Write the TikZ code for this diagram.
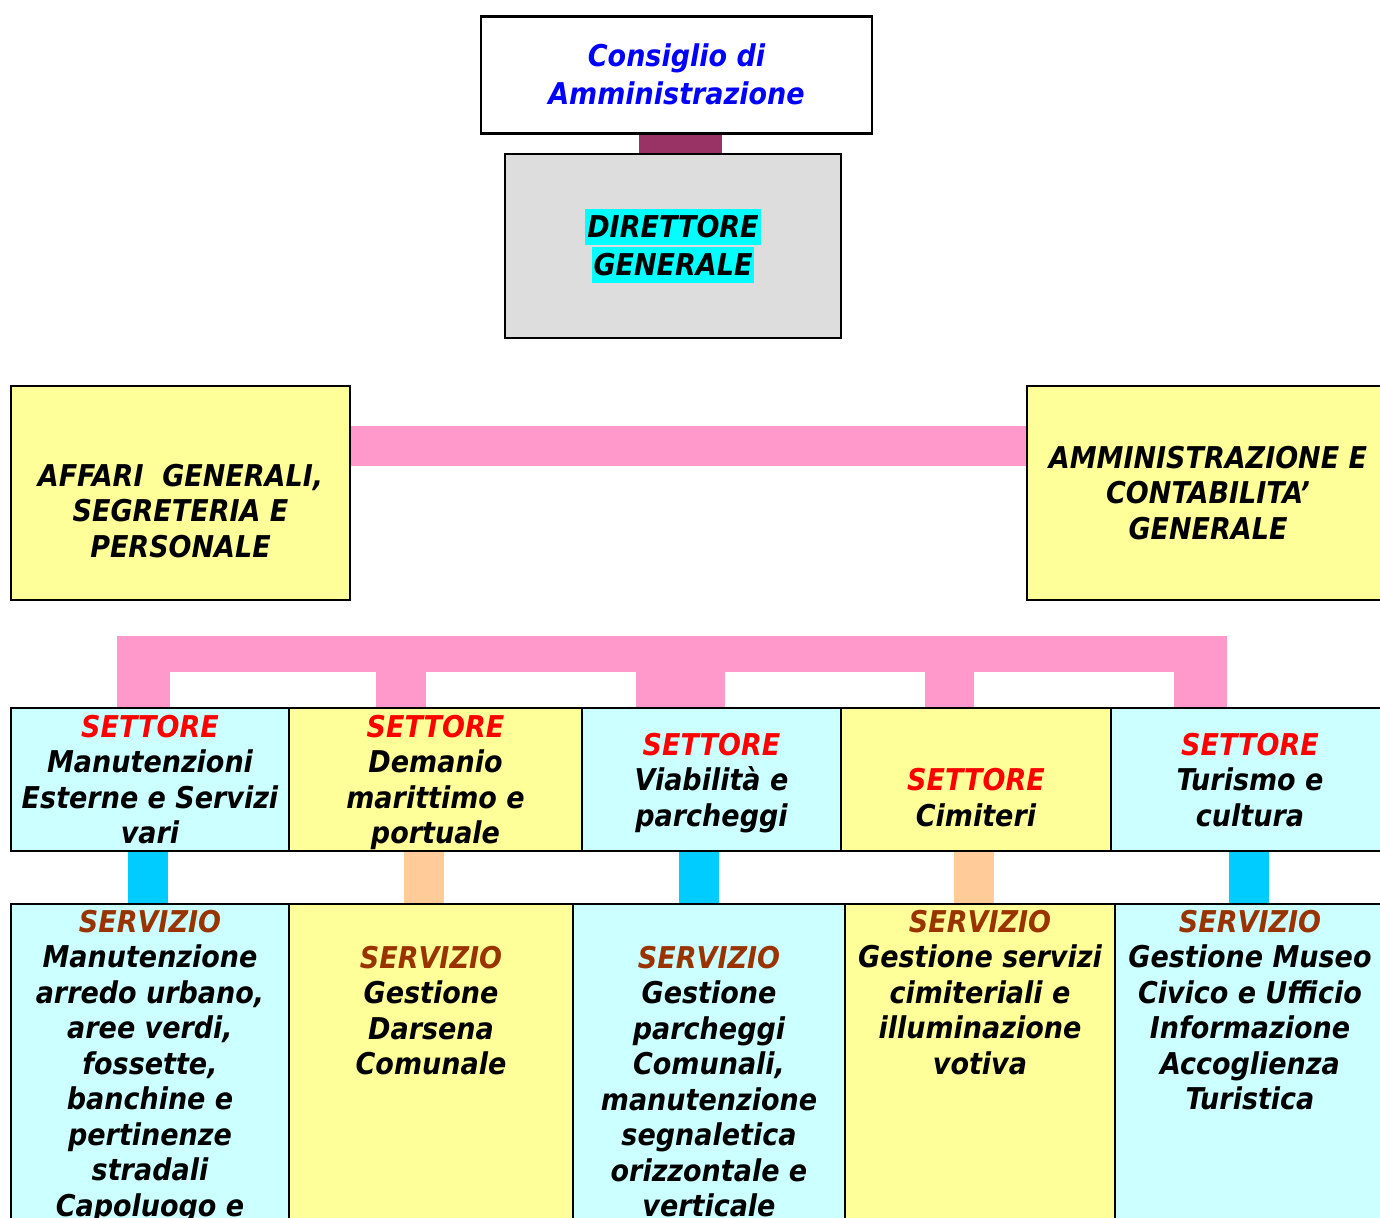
\documentclass[tikz,border=0pt]{standalone}
\usepackage{fontspec}
\setmainfont{DejaVu Sans Condensed}
\usepackage{tikz}
\usetikzlibrary{positioning,calc}

\definecolor{cdablue}{HTML}{0000FF}
\definecolor{dgbar}{HTML}{993366}
\definecolor{dggray}{HTML}{DDDDDD}
\definecolor{hlcyan}{HTML}{00FFFF}
\definecolor{boxyellow}{HTML}{FFFF99}
\definecolor{boxcyan}{HTML}{CCFFFF}
\definecolor{barpink}{HTML}{FF99CC}
\definecolor{barcyan}{HTML}{00CCFF}
\definecolor{barpeach}{HTML}{FFCC99}
\definecolor{settred}{HTML}{FF0000}
\definecolor{servbrown}{HTML}{993300}

\newcommand\orgfont{\fontsize{15pt}{17.75pt}\selectfont\bfseries\itshape}
% strut: same height over and under the middle of the capitals
\newcommand\cs{\rule[-3.5pt]{0pt}{18pt}}
\newcommand\hlc[1]{{\setlength{\fboxsep}{0pt}\colorbox{hlcyan}{\cs\kern1pt#1\kern1pt}}}
\newcommand\sett{\textcolor{settred}{SETTORE}}
\newcommand\serv{\textcolor{servbrown}{SERVIZIO}}

\tikzset{
  box/.style={draw=black, line width=1.1pt, inner sep=0pt, align=center, font=\orgfont},
  txt/.style={inner sep=0pt, align=center, font=\orgfont},
  pinkbar/.style={draw=barpink},
}

\begin{document}
\begin{tikzpicture}[x=0.5pt,y=-0.5pt]
\useasboundingbox (0,0) rectangle (1380,1218);
\clip (0,0) rectangle (1380,1218);

% vertice
\node[box, fill=white, minimum width=195.5pt, minimum height=58.5pt, text=cdablue] (CdA) at (676.5,75) {\cs Consiglio di\\Amministrazione\cs};
\node[box, fill=dggray, minimum width=168pt, minimum height=92pt] (DG) at (673,246) {\hlc{DIRETTORE}\\\hlc{GENERALE}};
\draw[dgbar, line width=41.5pt] ($(CdA.south)+(4,0)$) -- ($(DG.north)+(7.5,0)$);

% staff
\node[box, fill=boxyellow, minimum width=169.5pt, minimum height=107pt] (AG) at (180.5,493) {\cs\\AFFARI\ \ GENERALI,\\SEGRETERIA E\\PERSONALE\cs};
\node[box, fill=boxyellow, minimum width=181pt, minimum height=107pt] (AC) at (1208,493) {\cs AMMINISTRAZIONE E\\CONTABILITA’\\GENERALE\cs};
\draw[pinkbar, line width=20pt] ($(AG.east)+(0,-47)$) -- ($(AC.west)+(0,-47)$);

% settori
\node[box, fill=boxcyan, minimum width=139pt, minimum height=71.5pt] (S1) at (150,779.5) {\cs\sett\\Manutenzioni\\Esterne e Servizi\\vari\cs};
\node[box, fill=boxyellow, minimum width=146.5pt, minimum height=71.5pt] (S2) at (435.5,779.5) {\cs\sett\\Demanio\\marittimo e\\portuale\cs};
\node[box, fill=boxcyan, minimum width=129.5pt, minimum height=71.5pt] (S3) at (711.5,779.5) {\cs\sett\\Viabilità e\\parcheggi\cs};
\node[box, fill=boxyellow, minimum width=135pt, minimum height=71.5pt] (S4) at (976,779.5) {\cs\\\sett\\Cimiteri\cs};
\node[box, fill=boxcyan, minimum width=139pt, minimum height=71.5pt] (S5) at (1250,779.5) {\cs\sett\\Turismo e\\cultura\cs};

% barra rosa
\coordinate (busL) at (117,636);
\coordinate (busR) at (1227,672);
\fill[barpink] (busL) rectangle (busR);
\draw[pinkbar, line width=26.5pt] (143.5,0 |- busL) -- (143.5,0 |- S1.north);
\draw[pinkbar, line width=25pt] (401,0 |- busL) -- (401,0 |- S2.north);
\draw[pinkbar, line width=44.5pt] (680.5,0 |- busL) -- (680.5,0 |- S3.north);
\draw[pinkbar, line width=24.5pt] (949.5,0 |- busL) -- (949.5,0 |- S4.north);
\draw[pinkbar, line width=26.5pt] (1200.5,0 |- busL) -- (1200.5,0 |- S5.north);

% servizi
\node[box, fill=boxcyan, minimum width=139pt, minimum height=198pt] (V1) at (150,1102) {};
\node[box, fill=boxyellow, minimum width=142pt, minimum height=198pt] (V2) at (431,1102) {};
\node[box, fill=boxcyan, minimum width=136pt, minimum height=198pt] (V3) at (709,1102) {};
\node[box, fill=boxyellow, minimum width=135pt, minimum height=198pt] (V4) at (980,1102) {};
\node[box, fill=boxcyan, minimum width=135pt, minimum height=198pt] (V5) at (1250,1102) {};

\draw[barcyan, line width=20pt] (148,0 |- S1.south) -- (148,0 |- V1.north);
\draw[barpeach, line width=20pt] (424,0 |- S2.south) -- (424,0 |- V2.north);
\draw[barcyan, line width=20pt] (699,0 |- S3.south) -- (699,0 |- V3.north);
\draw[barpeach, line width=20pt] (974,0 |- S4.south) -- (974,0 |- V4.north);
\draw[barcyan, line width=20pt] (1249,0 |- S5.south) -- (1249,0 |- V5.north);

\node[txt, anchor=north] (T1) at (V1.north) {\cs\serv\\Manutenzione\\arredo urbano,\\aree verdi,\\fossette,\\banchine e\\pertinenze\\stradali\\Capoluogo e};
\node[txt, anchor=north] (T2) at ($(V2.north)+(0,36)$) {\cs\serv\\Gestione\\Darsena\\Comunale};
\node[txt, anchor=north] (T3) at ($(V3.north)+(0,36)$) {\cs\serv\\Gestione\\parcheggi\\Comunali,\\manutenzione\\segnaletica\\orizzontale e\\verticale};
\node[txt, anchor=north] (T4) at (V4.north) {\cs\serv\\Gestione servizi\\cimiteriali e\\illuminazione\\votiva};
\node[txt, anchor=north] (T5) at (V5.north) {\cs\serv\\Gestione Museo\\Civico e Ufficio\\Informazione\\Accoglienza\\Turistica};
\end{tikzpicture}
\end{document}
